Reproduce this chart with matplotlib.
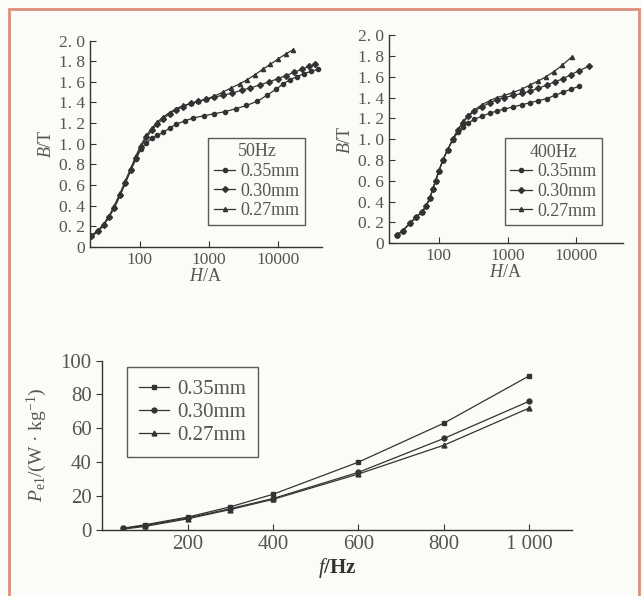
import matplotlib.pyplot as plt
from matplotlib.patches import Rectangle

plt.rcParams['font.family'] = 'Liberation Serif'
plt.rcParams['mathtext.fontset'] = 'custom'
plt.rcParams['mathtext.rm'] = 'Liberation Serif'
plt.rcParams['mathtext.it'] = 'Liberation Serif:italic'
plt.rcParams['mathtext.bf'] = 'Liberation Serif:bold'

labels = ['0.35mm', '0.30mm', '0.27mm']
markers = ['o', 'D', '^']

# B-H curves, 50 Hz
h50_035 = [20, 25, 30, 36, 43, 52, 62, 74, 88, 105, 125, 150, 180, 220, 270, 340, 450, 600, 850,
           1200, 1700, 2500, 3500, 5000, 7000, 9500, 12000, 15000, 19000, 24000, 30000, 38000]
b50_035 = [0.10, 0.15, 0.21, 0.29, 0.38, 0.50, 0.62, 0.74, 0.85, 0.95, 1.01, 1.05, 1.08, 1.11, 1.15, 1.19,
           1.22, 1.25, 1.27, 1.29, 1.31, 1.34, 1.37, 1.41, 1.47, 1.53, 1.58, 1.62, 1.65, 1.68, 1.70, 1.72]
h50_030 = [20, 25, 30, 36, 43, 52, 62, 74, 88, 105, 125, 150, 180, 220, 270, 340, 430, 550, 700, 900,
           1200, 1600, 2200, 3000, 4000, 5500, 7500, 10000, 13000, 17000, 22000, 28000, 35000]
b50_030 = [0.10, 0.15, 0.21, 0.29, 0.38, 0.50, 0.62, 0.74, 0.86, 0.97, 1.06, 1.13, 1.19, 1.24, 1.29, 1.33,
           1.36, 1.39, 1.41, 1.43, 1.45, 1.47, 1.49, 1.52, 1.54, 1.57, 1.60, 1.63, 1.66, 1.69, 1.72, 1.75, 1.77]
h50_027 = [20, 25, 30, 36, 43, 52, 62, 74, 88, 105, 125, 150, 180, 220, 270, 340, 430, 550, 700, 900,
           1200, 1600, 2100, 2800, 3600, 4700, 6000, 7800, 10000, 13000, 16500]
b50_027 = [0.11, 0.16, 0.22, 0.30, 0.40, 0.52, 0.64, 0.76, 0.88, 0.99, 1.08, 1.15, 1.21, 1.26, 1.30, 1.34,
           1.37, 1.39, 1.41, 1.43, 1.46, 1.50, 1.54, 1.58, 1.62, 1.67, 1.72, 1.77, 1.82, 1.87, 1.91]

# B-H curves, 400 Hz
h400_035 = [25, 30, 38, 47, 57, 66, 74, 82, 90, 100, 115, 135, 160, 190, 225, 270, 330, 420, 550, 700,
            900, 1200, 1600, 2100, 2800, 3700, 4800, 6300, 8300, 11000]
b400_035 = [0.08, 0.12, 0.19, 0.25, 0.30, 0.36, 0.43, 0.52, 0.60, 0.69, 0.80, 0.90, 0.99, 1.07, 1.12, 1.16,
            1.19, 1.22, 1.25, 1.27, 1.29, 1.31, 1.33, 1.35, 1.37, 1.39, 1.42, 1.45, 1.48, 1.51]
h400_030 = [25, 30, 38, 47, 57, 66, 74, 82, 90, 100, 115, 135, 160, 190, 225, 270, 330, 420, 550, 700,
            900, 1200, 1600, 2100, 2800, 3700, 4800, 6300, 8300, 11000, 15000]
b400_030 = [0.08, 0.12, 0.19, 0.25, 0.30, 0.36, 0.43, 0.52, 0.60, 0.69, 0.80, 0.90, 1.00, 1.09, 1.16, 1.22,
            1.27, 1.31, 1.35, 1.38, 1.40, 1.42, 1.44, 1.46, 1.49, 1.52, 1.55, 1.58, 1.62, 1.66, 1.70]
h400_027 = [25, 30, 38, 47, 57, 66, 74, 82, 90, 100, 115, 135, 160, 190, 225, 270, 330, 420, 550, 700,
            900, 1200, 1600, 2100, 2800, 3600, 4700, 6200, 8500]
b400_027 = [0.08, 0.12, 0.19, 0.25, 0.30, 0.36, 0.43, 0.52, 0.60, 0.69, 0.80, 0.90, 1.00, 1.09, 1.17, 1.23,
            1.28, 1.33, 1.37, 1.40, 1.42, 1.45, 1.48, 1.52, 1.56, 1.60, 1.65, 1.71, 1.79]

# iron loss vs frequency
freq = [50, 100, 200, 300, 400, 600, 800, 1000]
loss_035 = [1.0, 3.0, 7.5, 13.6, 21, 40, 63, 91]
loss_030 = [0.8, 2.5, 7.0, 12.5, 18.5, 34, 54, 76]
loss_027 = [0.5, 2.0, 6.5, 12.0, 18, 33, 50, 72]

ink = '#333333'
txt = '#555555'
bg = '#fbfbf8'

fig = plt.figure(figsize=(6.42, 5.96), dpi=100, facecolor=bg)
fig.patches.append(Rectangle((0.014, -0.1), 0.981, 1.085, transform=fig.transFigure,
                             fill=False, edgecolor='#df8e7c', linewidth=2))


def style(ax, direction):
    ax.set_facecolor(bg)
    for s in ['top', 'right']:
        ax.spines[s].set_visible(False)
    for s in ['left', 'bottom']:
        ax.spines[s].set_color(ink)
        ax.spines[s].set_linewidth(1.0)
    ax.tick_params(direction=direction, colors=ink, labelcolor=txt, length=4, width=0.8)


def bh_panel(rect, data, title, anchor):
    ax = fig.add_axes(rect)
    style(ax, 'in')
    for (h, b), lab, m in zip(data, labels, markers):
        ax.plot(h, b, color=ink, lw=0.9, marker=m, ms=3, label=lab)
    ax.set_xscale('log')
    ax.set_xlim(19, 43000)
    ax.set_ylim(0, 2.0)
    ax.set_xticks([100, 1000, 10000])
    ax.set_xticklabels(['100', '1000', '10000'], fontsize=12.5)
    ax.minorticks_off()
    yt = [0, 0.2, 0.4, 0.6, 0.8, 1.0, 1.2, 1.4, 1.6, 1.8, 2.0]
    ax.set_yticks(yt)
    ax.set_yticklabels(['0'] + ['%d. %d' % (int(v), round(v * 10) % 10) for v in yt[1:]], fontsize=12.5)
    ax.set_xlabel(r'$\mathit{H}$/A', fontsize=13, color=txt, labelpad=0)
    ax.set_ylabel(r'$\mathit{B}$/T', fontsize=13, color=txt, labelpad=3)
    leg = ax.legend(title=title, loc='lower right', bbox_to_anchor=anchor, fontsize=13,
                    title_fontsize=13, frameon=True, fancybox=False, edgecolor=ink,
                    handlelength=1.2, handletextpad=0.3, borderpad=0.3, labelspacing=0.15,
                    borderaxespad=0)
    leg.get_frame().set_linewidth(1.0)
    leg.get_frame().set_facecolor(bg)
    for t in leg.get_texts():
        t.set_color(txt)
    leg.get_title().set_color(txt)
    return ax


bh_panel([0.140, 0.586, 0.361, 0.346],
         [(h50_035, b50_035), (h50_030, b50_030), (h50_027, b50_027)], '50Hz', (0.93, 0.107))
ax2 = bh_panel([0.606, 0.592, 0.364, 0.349],
               [(h400_035, b400_035), (h400_030, b400_030), (h400_027, b400_027)], '400Hz', (0.91, 0.087))
ax2.set_xlim(19, 47000)

ax3 = fig.add_axes([0.159, 0.111, 0.732, 0.284])
style(ax3, 'out')
ax3.tick_params(axis='x', direction='in')
for loss, lab, m in zip([loss_035, loss_030, loss_027], labels, ['s', 'o', '^']):
    ax3.plot(freq, loss, color=ink, lw=0.9, marker=m, ms=3.5, label=lab)
ax3.set_xlim(0, 1100)
ax3.set_ylim(0, 100)
ax3.set_xticks([200, 400, 600, 800, 1000])
ax3.set_xticklabels(['200', '400', '600', '800', '1 000'], fontsize=15)
ax3.set_yticks([0, 20, 40, 60, 80, 100])
ax3.set_yticklabels(['0', '20', '40', '60', '80', '100'], fontsize=15)
ax3.set_xlabel(r'$\mathit{f}$/Hz', fontsize=15, fontweight='bold', color=ink, labelpad=2)
ax3.set_ylabel(r'$P_{\mathrm{e1}}$/(W · kg$^{-1}$)', fontsize=14, color=txt, labelpad=8)
leg3 = ax3.legend(loc='upper left', bbox_to_anchor=(0.053, 0.96), fontsize=15, frameon=True,
                  fancybox=False, edgecolor=ink, handlelength=1.4, handletextpad=0.4,
                  borderpad=0.6, labelspacing=0.15, borderaxespad=0)
leg3.get_frame().set_linewidth(1.0)
leg3.get_frame().set_facecolor(bg)
for t in leg3.get_texts():
    t.set_color(txt)

fig.savefig('out.png', dpi=100, facecolor=bg)
